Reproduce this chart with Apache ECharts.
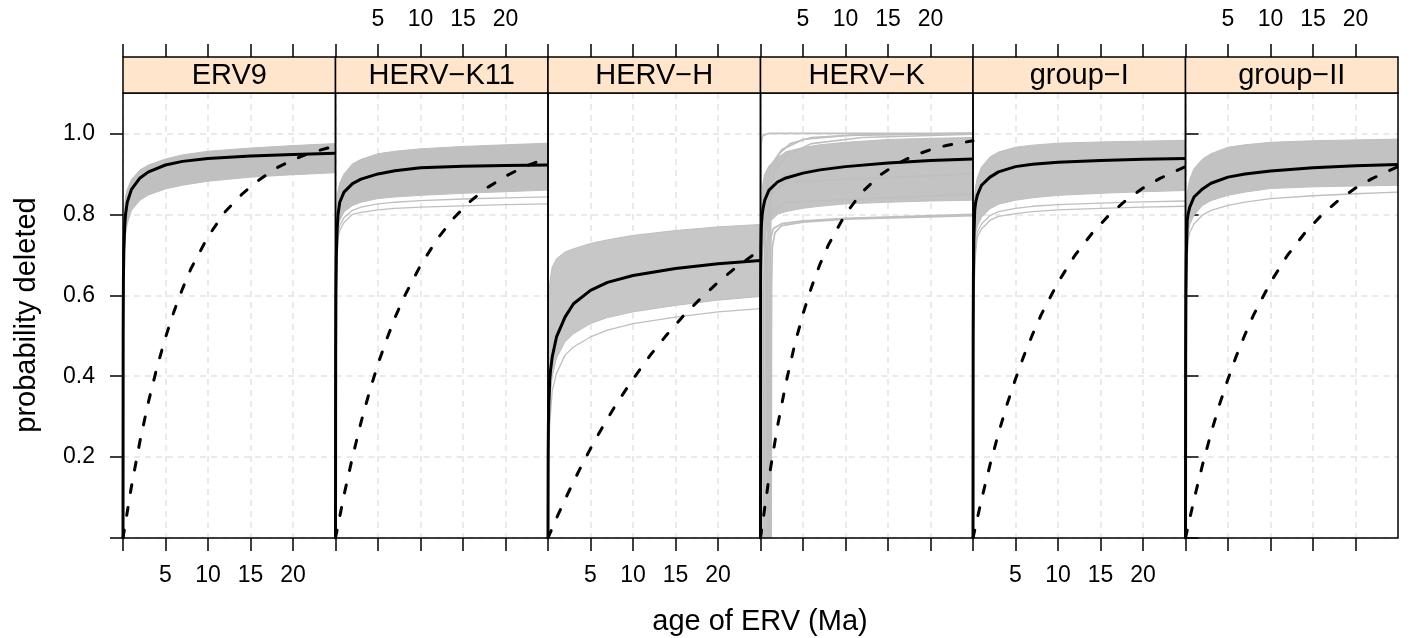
<!DOCTYPE html>
<html>
<head>
<meta charset="utf-8">
<script src="https://cdn.jsdelivr.net/npm/echarts@6/dist/echarts.min.js"></script>
<style>
html, body { margin: 0; padding: 0; background: #fff; }
#chart { width: 1417px; height: 638px; }
</style>
</head>
<body>
<div id="chart"></div>
<script>
const FONT = '"Liberation Sans", Arial, sans-serif'

// panels, left to right
const panelNames = ['ERV9', 'HERV−K11', 'HERV−H', 'HERV−K', 'group−I', 'group−II']
const xTicks = [0, 5, 10, 15, 20]
const xLabels = [5, 10, 15, 20]
const yTicks = [0, 0.2, 0.4, 0.6, 0.8, 1.0]
const yLabels = [0.2, 0.4, 0.6, 0.8, 1.0]

// x positions (Ma) where the fitted curves were read
const curveX = [0, 0.02, 0.05, 0.1, 0.2, 0.3, 0.5, 1, 2, 3, 5, 7, 10, 15, 20, 25]
// x positions for the dashed reference curves
const dashX = [0, 1, 2, 3, 4, 5, 6, 7, 8, 10, 12, 14, 16, 18, 20, 22, 25]

// ERV9
const erv9Mean  = [0, 0.50, 0.64, 0.71, 0.77, 0.800, 0.830, 0.862, 0.890, 0.905, 0.922, 0.931, 0.938, 0.944, 0.948, 0.951]
const erv9Upper = [0, 0.60, 0.72, 0.78, 0.82, 0.843, 0.862, 0.886, 0.910, 0.922, 0.937, 0.947, 0.956, 0.964, 0.970, 0.975]
const erv9Lower = [0, 0.40, 0.55, 0.65, 0.72, 0.750, 0.777, 0.810, 0.835, 0.848, 0.863, 0.872, 0.882, 0.892, 0.898, 0.903]
const erv9Dash  = [0, 0.128, 0.240, 0.337, 0.422, 0.496, 0.560, 0.616, 0.666, 0.745, 0.806, 0.850, 0.885, 0.914, 0.935, 0.952, 0.969]

// HERV-K11
const k11Mean  = [0, 0.45, 0.60, 0.70, 0.765, 0.800, 0.830, 0.855, 0.876, 0.887, 0.900, 0.908, 0.915, 0.919, 0.921, 0.922]
const k11Upper = [0, 0.60, 0.72, 0.79, 0.835, 0.860, 0.877, 0.900, 0.925, 0.936, 0.950, 0.956, 0.962, 0.968, 0.972, 0.976]
const k11Lower = [0, 0.40, 0.55, 0.66, 0.735, 0.769, 0.785, 0.806, 0.822, 0.830, 0.839, 0.843, 0.847, 0.852, 0.856, 0.860]
const k11Low   = [0, 0.35, 0.50, 0.62, 0.700, 0.744, 0.760, 0.780, 0.800, 0.805, 0.811, 0.815, 0.818, 0.821, 0.824, 0.826]
const k11Low2  = [0, 0.38, 0.53, 0.64, 0.715, 0.755, 0.772, 0.792, 0.810, 0.818, 0.826, 0.830, 0.834, 0.838, 0.841, 0.843]
const k11Dash  = [0, 0.106, 0.200, 0.286, 0.362, 0.430, 0.490, 0.545, 0.593, 0.674, 0.740, 0.793, 0.835, 0.868, 0.894, 0.916, 0.940]

// HERV-H
const hMean  = [0, 0.20, 0.283, 0.33, 0.39, 0.415, 0.448, 0.497, 0.546, 0.579, 0.612, 0.632, 0.649, 0.666, 0.678, 0.686]
const hUpper = [0, 0.50, 0.570, 0.60, 0.629, 0.645, 0.670, 0.690, 0.707, 0.715, 0.728, 0.737, 0.748, 0.760, 0.769, 0.775]
const hLower = [0, 0.18, 0.230, 0.28, 0.330, 0.360, 0.400, 0.445, 0.485, 0.505, 0.530, 0.545, 0.559, 0.575, 0.588, 0.597]
const hLow   = [0, 0.10, 0.160, 0.22, 0.280, 0.310, 0.365, 0.407, 0.452, 0.472, 0.497, 0.514, 0.530, 0.546, 0.559, 0.567]
const hDash  = [0, 0.049, 0.095, 0.139, 0.181, 0.221, 0.259, 0.295, 0.330, 0.393, 0.451, 0.503, 0.551, 0.593, 0.632, 0.667, 0.713]

// HERV-K
const kMean  = [0, 0.62, 0.72, 0.77, 0.80, 0.815, 0.835, 0.860, 0.880, 0.890, 0.902, 0.910, 0.918, 0.927, 0.933, 0.937]
const kUpper = [0, 0.60, 0.75, 0.82, 0.86, 0.880, 0.900, 0.920, 0.940, 0.955, 0.965, 0.972, 0.978, 0.985, 0.988, 0.990]
const kLower = [0, 0.50, 0.60, 0.66, 0.70, 0.720, 0.750, 0.780, 0.800, 0.807, 0.815, 0.820, 0.826, 0.830, 0.833, 0.835]
const kTop   = [0, 0.85, 0.95, 0.98, 0.99, 0.995, 0.998, 1.0, 1.0, 1.0, 1.0, 1.0, 1.0, 1.0, 1.0, 1.0]
const kDash  = [0, 0.149, 0.276, 0.384, 0.476, 0.554, 0.620, 0.677, 0.725, 0.801, 0.856, 0.896, 0.924, 0.945, 0.960, 0.971, 0.982]
// HERV-K curves that stay at zero for the first Ma
const kLate1X = [0, 1.25, 1.3, 1.4, 1.7, 2.5, 5, 10, 25]
const kLate1Y = [0, 0, 0.62, 0.72, 0.755, 0.772, 0.781, 0.788, 0.797]
const kLate2X = [0, 1.05, 1.1, 1.2, 1.5, 2.5, 5, 10, 25]
const kLate2Y = [0, 0, 0.65, 0.74, 0.765, 0.777, 0.784, 0.790, 0.800]
const kLate3X = [0, 0.8, 0.85, 1.0, 1.5, 3, 6, 12, 25]
const kLate3Y = [0, 0, 0.70, 0.84, 0.90, 0.945, 0.975, 0.990, 0.998]
const kLate4X = [0, 0.5, 0.55, 0.7, 1.2, 2.5, 5, 10, 25]
const kLate4Y = [0, 0, 0.75, 0.86, 0.92, 0.96, 0.985, 0.995, 1.0]
const kLate5X = [0, 1.15, 1.2, 1.4, 2.2, 3.5, 6, 12, 25]
const kLate5Y = [0, 0, 0.80, 0.90, 0.95, 0.975, 0.990, 0.997, 1.0]
const kLate6X = [0, 0.95, 1.0, 1.1, 1.5, 3, 8, 25]
const kLate6Y = [0, 0, 0.70, 0.82, 0.87, 0.90, 0.92, 0.93]
const kLate7X = [0, 0.3, 0.35, 0.5, 1.0, 3, 25]
const kLate7Y = [0, 0, 0.60, 0.75, 0.80, 0.83, 0.85]
const kLate8X = [0, 0.65, 0.7, 0.85, 1.3, 3, 25]
const kLate8Y = [0, 0, 0.68, 0.80, 0.85, 0.88, 0.90]

// group-I
const g1Mean  = [0, 0.50, 0.65, 0.74, 0.81, 0.828, 0.847, 0.872, 0.892, 0.905, 0.918, 0.924, 0.929, 0.933, 0.936, 0.938]
const g1Upper = [0, 0.60, 0.73, 0.80, 0.85, 0.868, 0.890, 0.917, 0.942, 0.954, 0.966, 0.971, 0.976, 0.979, 0.981, 0.983]
const g1Lower = [0, 0.40, 0.55, 0.65, 0.72, 0.752, 0.770, 0.793, 0.814, 0.825, 0.835, 0.841, 0.847, 0.852, 0.856, 0.859]
const g1Low   = [0, 0.30, 0.45, 0.57, 0.66, 0.703, 0.744, 0.764, 0.785, 0.795, 0.802, 0.807, 0.811, 0.815, 0.818, 0.820]
const g1Low2  = [0, 0.33, 0.48, 0.60, 0.68, 0.720, 0.755, 0.776, 0.797, 0.807, 0.815, 0.820, 0.824, 0.828, 0.831, 0.833]
const g1Dash  = [0, 0.095, 0.181, 0.259, 0.330, 0.393, 0.451, 0.503, 0.551, 0.632, 0.699, 0.753, 0.798, 0.835, 0.865, 0.889, 0.918]

// group-II
const g2Mean  = [0, 0.45, 0.60, 0.70, 0.785, 0.800, 0.818, 0.843, 0.863, 0.877, 0.892, 0.900, 0.907, 0.915, 0.920, 0.923]
const g2Upper = [0, 0.60, 0.73, 0.80, 0.850, 0.867, 0.887, 0.913, 0.937, 0.950, 0.966, 0.972, 0.978, 0.982, 0.984, 0.986]
const g2Lower = [0, 0.40, 0.55, 0.65, 0.720, 0.752, 0.775, 0.798, 0.822, 0.834, 0.847, 0.855, 0.864, 0.868, 0.870, 0.872]
const g2Low   = [0, 0.35, 0.50, 0.60, 0.690, 0.736, 0.755, 0.777, 0.798, 0.810, 0.822, 0.830, 0.839, 0.846, 0.851, 0.855]
const g2Dash  = [0, 0.095, 0.181, 0.259, 0.330, 0.393, 0.451, 0.503, 0.551, 0.632, 0.699, 0.753, 0.798, 0.835, 0.865, 0.889, 0.918]

const means  = [erv9Mean, k11Mean, hMean, kMean, g1Mean, g2Mean]
const uppers = [erv9Upper, k11Upper, hUpper, kUpper, g1Upper, g2Upper]
const lowers = [erv9Lower, k11Lower, hLower, kLower, g1Lower, g2Lower]
const dashes = [erv9Dash, k11Dash, hDash, kDash, g1Dash, g2Dash]
// extra single gray lines: [panel, xs, ys]
const extraLines = [
  [1, curveX, k11Low],
  [1, curveX, k11Low2],
  [2, curveX, hLow],
  [3, curveX, kTop],
  [3, kLate1X, kLate1Y],
  [3, kLate2X, kLate2Y],
  [3, kLate3X, kLate3Y],
  [3, kLate4X, kLate4Y],
  [3, kLate5X, kLate5Y],
  [3, kLate6X, kLate6Y],
  [3, kLate7X, kLate7Y],
  [3, kLate8X, kLate8Y],
  [4, curveX, g1Low],
  [4, curveX, g1Low2],
  [5, curveX, g2Low]
]

const LEFT = 123
const PANEL_W = 212.5
const TOP = 93
const PANEL_H = 445
const STRIP_H = 36
const GRAY = '#bfbfbf'
const BAND = ['#c0c0c0', '#c0c0c0', '#c7c7c7', '#c3c3c3', '#c3c3c3', '#c2c2c2']
const GRID_LINE = { color: '#e4e4e4', width: 1.5, type: [6, 5] }
const TICK_FONT = 23
const TEXT = { fontFamily: FONT, fill: '#000', align: 'center', verticalAlign: 'middle', textAlign: 'center', textVerticalAlign: 'middle' }

const pairs = (xs, ys) => xs.map((x, k) => [x, ys[k]])

const chart = echarts.init(document.getElementById('chart'), null, { renderer: 'canvas' })

const grids = [], xAxes = [], yAxes = [], series = [], graphics = []

panelNames.forEach((name, i) => {
  const left = LEFT + i * PANEL_W
  grids.push({ left: left, top: TOP, width: PANEL_W, height: PANEL_H })
  // bottom axis
  xAxes.push({
    gridIndex: i, type: 'value', min: 0, max: 25, interval: 5, position: 'bottom',
    axisLine: { show: false },
    axisTick: { show: true, length: 13, customValues: xTicks, lineStyle: { color: '#000', width: 1.5 } },
    axisLabel: { show: i % 2 === 0, customValues: xLabels, margin: 26, fontSize: TICK_FONT, fontFamily: FONT, color: '#000' },
    splitLine: { show: true, lineStyle: GRID_LINE }
  })
  // top axis, above the strip
  xAxes.push({
    gridIndex: i, type: 'value', min: 0, max: 25, interval: 5, position: 'top', offset: STRIP_H,
    axisLine: { show: false },
    axisTick: { show: true, length: 13, customValues: xTicks, lineStyle: { color: '#000', width: 1.5 } },
    axisLabel: { show: i % 2 === 1, customValues: xLabels, margin: 26, fontSize: TICK_FONT, fontFamily: FONT, color: '#000' },
    splitLine: { show: false }
  })
  yAxes.push({
    gridIndex: i, type: 'value', min: 0, max: 1.1, interval: 0.2,
    position: i === 5 ? 'right' : 'left',
    axisLine: { show: false },
    axisTick: { show: i === 0 || i === 5, length: 13, customValues: yTicks, lineStyle: { color: '#000', width: 1.5 } },
    axisLabel: {
      show: i === 0, customValues: yLabels, margin: 28, fontSize: TICK_FONT, fontFamily: FONT, color: '#000',
      formatter: v => v.toFixed(1)
    },
    splitLine: { show: true, lineStyle: GRID_LINE }
  })

  const xi = i * 2
  const base = { xAxisIndex: xi, yAxisIndex: i, symbol: 'none', silent: true, animation: false }
  // gray band of fitted curves, filled between its lower and upper edge
  series.push(Object.assign({}, base, {
    type: 'custom',
    data: [[0, 0]],
    z: 2,
    renderItem: (params, api) => {
      const top = curveX.map((x, k) => api.coord([x, uppers[i][k]]))
      const bottom = curveX.map((x, k) => api.coord([x, lowers[i][k]])).reverse()
      return {
        type: 'polygon',
        shape: { points: top.concat(bottom) },
        style: { fill: BAND[i], stroke: GRAY, lineWidth: 1 }
      }
    }
  }))
  extraLines.filter(e => e[0] === i).forEach(e => {
    series.push(Object.assign({}, base, {
      type: 'line', z: 3,
      data: pairs(e[1], e[2]),
      lineStyle: { color: GRAY, width: i === 3 ? 1.7 : 1.3 }
    }))
  })
  // dashed reference curve
  series.push(Object.assign({}, base, {
    type: 'line', z: 4,
    data: pairs(dashX, dashes[i]),
    lineStyle: { color: '#000', width: 3, type: [8, 15], cap: 'round' }
  }))
  // fitted mean curve
  series.push(Object.assign({}, base, {
    type: 'line', z: 5,
    data: pairs(curveX, means[i]),
    lineStyle: { color: '#000', width: 3 }
  }))

  // panel border
  graphics.push({
    type: 'rect', z: 9, silent: true,
    shape: { x: left, y: TOP, width: PANEL_W, height: PANEL_H },
    style: { fill: null, stroke: '#000', lineWidth: 1.5 }
  })
  // strip
  graphics.push({
    type: 'rect', z: 10,
    shape: { x: left, y: TOP - STRIP_H, width: PANEL_W, height: STRIP_H },
    style: { fill: '#ffe5cc', stroke: '#000', lineWidth: 1.5 }
  })
  graphics.push({
    type: 'text', z: 11,
    x: left + PANEL_W / 2, y: TOP - STRIP_H / 2 + 1,
    style: Object.assign({ text: name, fontSize: 29 }, TEXT)
  })
})

graphics.push({
  type: 'text', x: 760, y: 622,
  style: Object.assign({ text: 'age of ERV (Ma)', fontSize: 29 }, TEXT)
})
graphics.push({
  type: 'text', x: 27, y: 315, rotation: Math.PI / 2,
  style: Object.assign({ text: 'probability deleted', fontSize: 29 }, TEXT)
})

chart.setOption({
  backgroundColor: '#fff',
  animation: false,
  grid: grids,
  xAxis: xAxes,
  yAxis: yAxes,
  series: series,
  graphic: graphics
})
</script>
</body>
</html>
